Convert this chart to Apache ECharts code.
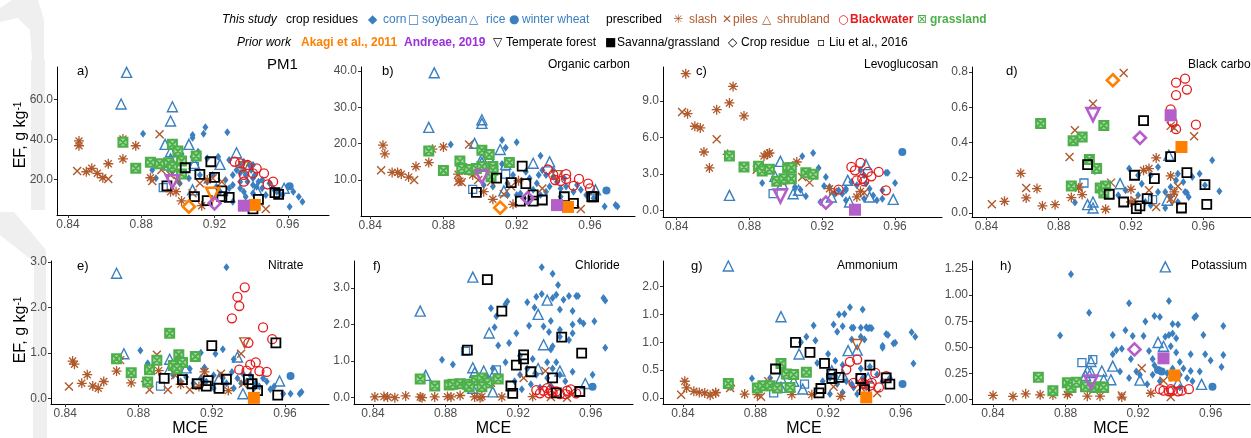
<!DOCTYPE html>
<html>
<head>
<meta charset="utf-8">
<script src="https://cdn.jsdelivr.net/npm/echarts@6/dist/echarts.min.js"></script>
<style>
  html, body { margin: 0; padding: 0; background: #fff; }
  #chart { width: 1251px; height: 438px; }
</style>
</head>
<body>
<div id="chart"></div>
<script>
// ---- data: [MCE, EF] ----
var xTicks = [0.84, 0.88, 0.92, 0.96];
var xTickLabels = ['0.84', '0.88', '0.92', '0.96'];

// a) PM1
var pm1Ticks = [20, 40, 60];
var pm1Labels = ['20.0', '40.0', '60.0'];
var pm1Corn = [[0.881,42.8],[0.908,42.2],[0.908,40.8],[0.915,46],[0.914,42.8],[0.927,43.5],[0.911,33.8],[0.908,31.3],[0.902,32.7],[0.916,30.5],[0.922,31.3],[0.928,29.7],[0.934,27.2],[0.936,24.7],[0.939,27.2],[0.937,22.2],[0.941,20.5],[0.934,18.8],[0.930,17.2],[0.926,19.7],[0.921,16.3],[0.916,18.8],[0.912,22.2],[0.906,20.5],[0.901,18.0],[0.886,24.7],[0.888,20.5],[0.897,23.8],[0.936,13.8],[0.941,13.0],[0.946,15.5],[0.950,18.0],[0.954,13.8],[0.957,12.2],[0.961,6.3],[0.966,11.3],[0.968,8.8],[0.963,13.8],[0.930,8.8],[0.937,11.3],[0.926,12.2],[0.943,16.3],[0.934,23.2],[0.938,18.8],[0.940,24.7],[0.942,22.2],[0.944,18.8],[0.930,22.2],[0.932,24.7],[0.928,15.5],[0.919,22.2],[0.936,28.8],[0.941,27.2],[0.941,17.2],[0.946,19.7],[0.934,15.5],[0.948,12.2],[0.952,15.5],[0.923,13.8]];
var pm1Soy = [[0.892,15.8],[0.909,26.5]];
var pm1Rice = [[0.872,73.5],[0.869,57.7],[0.897,56.3],[0.896,49.2],[0.893,37.5],[0.906,37.5],[0.932,33.3],[0.896,30.2],[0.923,27.5],[0.909,28.0],[0.895,27.2],[0.908,14.7],[0.958,15.5],[0.896,33.8],[0.943,14.7]];
var pm1Wheat = [[0.961,16.5]];
var pm1Slash = [[0.846,39.2],[0.846,36.8],[0.870,40.2],[0.870,30.2],[0.877,36.8],[0.862,27.8],[0.853,25.5],[0.850,23.8],[0.856,23.0],[0.859,20.8],[0.885,20.8],[0.902,9.2],[0.899,13.8],[0.896,13.8],[0.913,6.8],[0.916,19.7]];
var pm1Piles = [[0.845,24.2],[0.862,20.2],[0.890,42.5],[0.891,24.7],[0.886,19.2],[0.896,22.2],[0.900,19.2],[0.912,18.0],[0.908,13.0],[0.919,20.5],[0.948,5.2],[0.924,18.8]];
var pm1Shrub = [[0.936,26.3]];
var pm1Bw = [[0.931,28.8],[0.934,28.0],[0.938,27.2],[0.943,25.5],[0.941,23.0],[0.936,18.8],[0.947,23.0],[0.952,18.8],[0.949,17.5],[0.936,22.2]];
var pm1Grass = [[0.870,38.5],[0.897,37.5],[0.900,34.2],[0.885,28.5],[0.890,27.8],[0.895,28.3],[0.910,31.7],[0.902,29.2],[0.877,25.5],[0.902,22.7],[0.897,26.3]];
var pm1Liu = [[0.904,25.8],[0.918,28.8],[0.912,22.5],[0.920,21.0],[0.894,16.7],[0.909,11.3],[0.916,9.3],[0.924,14.2],[0.924,11.3],[0.928,11.0],[0.944,10.0],[0.941,5.2],[0.953,13.3],[0.955,12.5]];
var pm1Akagi = [[0.906,6.3,'crop'],[0.919,12.5,'forest'],[0.942,7.2,'savanna']];
var pm1Andreae = [[0.897,18.8,'forest'],[0.920,8.0,'crop'],[0.936,6.8,'savanna']];

// b) Organic carbon
var ocTicks = [10, 20, 30, 40];
var ocLabels = ['10.0', '20.0', '30.0', '40.0'];
var ocCorn = [[0.884,19.8],[0.912,21.0],[0.920,20.4],[0.914,18.9],[0.933,16.7],[0.912,14.4],[0.918,11.4],[0.925,12.3],[0.927,10.5],[0.932,11.4],[0.936,11.4],[0.940,12.7],[0.942,9.5],[0.938,8.2],[0.944,7.7],[0.947,8.2],[0.951,6.8],[0.955,7.3],[0.958,5.9],[0.962,5.0],[0.968,2.7],[0.974,3.1],[0.975,2.7],[0.922,6.3],[0.924,5.0],[0.929,7.3],[0.933,5.9],[0.936,6.8],[0.931,9.1],[0.927,4.1],[0.915,9.1],[0.907,8.2],[0.902,8.6],[0.915,5.9],[0.946,10.5],[0.940,10.9],[0.934,12.7],[0.944,5.4],[0.920,5.9],[0.953,8.6]];
var ocSoy = [[0.896,7.4],[0.914,11.6]];
var ocRice = [[0.875,39.5],[0.872,24.5],[0.901,26.6],[0.901,25.6],[0.897,20.1],[0.911,18.4],[0.901,14.8],[0.907,14.1],[0.914,14.3],[0.929,14.6],[0.938,15.0],[0.963,7.3],[0.913,7.0],[0.901,15.9]];
var ocWheat = [[0.969,7.1]];
var ocSlash = [[0.847,19.6],[0.848,17.2],[0.874,18.5],[0.880,19.1],[0.872,14.8],[0.865,13.7],[0.852,12.1],[0.855,12.1],[0.857,11.6],[0.861,10.8],[0.888,11.6],[0.889,9.7],[0.902,6.8],[0.907,4.7],[0.918,3.3],[0.921,9.8],[0.896,11.4]];
var ocPiles = [[0.846,12.7],[0.864,10.0],[0.894,19.8],[0.888,9.5],[0.890,9.4],[0.906,9.5],[0.913,6.1],[0.917,8.2],[0.934,7.7],[0.955,2.0],[0.899,10.0]];
var ocShrub = [[0.942,11.2]];
var ocBw = [[0.937,12.9],[0.940,11.4],[0.944,9.7],[0.947,11.6],[0.951,8.4],[0.954,10.3],[0.959,9.0],[0.960,7.7],[0.941,10.0],[0.947,10.3]];
var ocGrass = [[0.872,18.0],[0.880,12.6],[0.889,15.2],[0.890,13.2],[0.894,12.9],[0.898,13.2],[0.901,18.2],[0.905,17.0],[0.907,13.7],[0.907,12.7],[0.916,14.8],[0.906,10.9],[0.901,13.7]];
var ocLiu = [[0.923,13.8],[0.909,10.5],[0.917,9.3],[0.925,9.0],[0.898,6.6],[0.922,4.2],[0.929,5.9],[0.929,4.2],[0.934,4.5],[0.946,5.4],[0.951,3.6],[0.961,5.4],[0.962,5.4]];
var ocAkagi = [[0.911,2.4,'crop'],[0.948,2.6,'savanna']];
var ocAndreae = [[0.901,10.9,'forest'],[0.926,5.0,'crop'],[0.942,3.1,'savanna']];

// c) Levoglucosan
var levoTicks = [0, 3, 6, 9];
var levoLabels = ['0.0', '3.0', '6.0', '9.0'];
var levoCorn = [[0.887,2.25],[0.909,4.45],[0.915,4.72],[0.918,3.49],[0.905,1.92],[0.908,1.70],[0.911,1.15],[0.922,2.74],[0.921,2.0],[0.924,1.92],[0.919,0.69],[0.927,1.37],[0.931,1.37],[0.933,1.65],[0.936,2.33],[0.939,2.06],[0.941,3.29],[0.943,2.88],[0.944,2.2],[0.946,1.78],[0.948,1.23],[0.950,0.82],[0.953,1.65],[0.955,3.1],[0.956,3.1],[0.960,2.25],[0.953,0.96],[0.943,0.96],[0.933,1.78],[0.929,1.65],[0.933,0.82]];
var levoSoy = [[0.893,1.37]];
var levoRice = [[0.869,1.23],[0.897,4.03],[0.894,2.8],[0.898,2.2],[0.904,1.37],[0.907,1.65],[0.934,2.47],[0.944,3.76],[0.946,1.1],[0.959,0.9],[0.935,0.69],[0.925,1.1]];
var levoWheat = [[0.964,4.8]];
var levoSlash = [[0.845,11.25],[0.871,10.2],[0.869,8.84],[0.862,8.29],[0.877,7.77],[0.846,7.96],[0.850,6.92],[0.853,6.78],[0.855,4.8],[0.858,3.49],[0.868,4.61],[0.888,4.47],[0.891,4.72],[0.890,4.64],[0.906,3.98],[0.897,2.39],[0.924,1.78],[0.941,1.56],[0.939,1.1]];
var levoPiles = [[0.843,8.1],[0.862,5.85],[0.884,3.35],[0.898,2.39],[0.909,2.74],[0.913,2.28],[0.926,1.5],[0.943,1.45]];
var levoShrub = [];
var levoBw = [[0.936,3.57],[0.941,3.9],[0.938,3.29],[0.945,3.16],[0.947,2.8],[0.942,2.6],[0.939,2.47],[0.951,3.16],[0.955,1.65],[0.929,1.7],[0.943,2.39]];
var levoGrass = [[0.869,4.47],[0.877,3.57],[0.885,3.62],[0.887,3.24],[0.891,3.38],[0.895,2.39],[0.899,2.6],[0.901,3.51],[0.903,3.51],[0.903,2.6],[0.911,3.1],[0.915,2.96]];
var levoLiu = [];
var levoAkagi = [];
var levoAndreae = [[0.897,1.18,'forest'],[0.922,0.63,'crop'],[0.938,0.05,'savanna']];

// d) Black carbon
var bcTicks = [0, 0.2, 0.4, 0.6, 0.8];
var bcLabels = ['0.0', '0.2', '0.4', '0.6', '0.8'];
var bcCorn = [[0.889,0.059],[0.900,0.236],[0.919,0.252],[0.926,0.166],[0.935,0.261],[0.939,0.119],[0.942,0.091],[0.946,0.223],[0.949,0.176],[0.951,0.115],[0.954,0.204],[0.958,0.223],[0.961,0.157],[0.965,0.299],[0.969,0.123],[0.913,0.1],[0.917,0.129],[0.924,0.1],[0.928,0.062],[0.931,0.043],[0.935,0.119],[0.939,0.028],[0.946,0.062],[0.950,0.119],[0.952,0.091],[0.942,0.147],[0.945,0.185],[0.931,0.214],[0.924,0.214]];
var bcSoy = [[0.894,0.17],[0.932,0.076]];
var bcRice = [[0.896,0.047],[0.899,0.062],[0.899,0.028],[0.914,0.166],[0.941,0.327],[0.940,0.072]];
var bcWheat = [];
var bcSlash = [[0.850,0.066],[0.859,0.225],[0.862,0.085],[0.868,0.138],[0.871,0.04],[0.878,0.047],[0.887,0.087],[0.891,0.142],[0.893,0.104],[0.906,0.021],[0.920,0.134],[0.927,0.242],[0.930,0.252],[0.934,0.312],[0.942,0.21],[0.920,0.062],[0.944,0.119]];
var bcPiles = [[0.843,0.049],[0.916,0.794],[0.899,0.62],[0.889,0.469],[0.886,0.318],[0.862,0.142],[0.891,0.148],[0.909,0.172],[0.922,0.072],[0.930,0.129],[0.934,0.034],[0.942,0.494],[0.944,0.482],[0.955,0.435],[0.946,0.151],[0.942,0.081]];
var bcShrub = [[0.943,0.077]];
var bcBw = [[0.945,0.739],[0.950,0.762],[0.951,0.70],[0.945,0.668],[0.942,0.588],[0.943,0.516],[0.945,0.475],[0.956,0.501]];
var bcGrass = [[0.870,0.507],[0.888,0.41],[0.893,0.431],[0.897,0.303],[0.901,0.252],[0.905,0.496],[0.887,0.153],[0.903,0.142],[0.906,0.153],[0.905,0.113]];
var bcLiu = [[0.927,0.524],[0.896,0.274],[0.908,0.106],[0.916,0.062],[0.922,0.214],[0.923,0.025],[0.925,0.04],[0.929,0.081],[0.933,0.195],[0.942,0.32],[0.951,0.229],[0.948,0.028],[0.961,0.161],[0.962,0.049]];
var bcAkagi = [[0.910,0.753,'crop'],[0.948,0.374,'savanna']];
var bcAndreae = [[0.899,0.558,'forest'],[0.925,0.426,'crop'],[0.942,0.554,'savanna']];

// e) Nitrate
var nitTicks = [0, 1, 2, 3];
var nitLabels = ['0.0', '1.0', '2.0', '3.0'];
var nitCorn = [[0.928,2.88],[0.881,1.05],[0.885,0.77],[0.914,1.0],[0.922,0.98],[0.926,1.08],[0.932,0.86],[0.916,0.68],[0.908,0.65],[0.899,0.51],[0.906,0.47],[0.910,0.33],[0.917,0.37],[0.921,0.22],[0.925,0.51],[0.928,0.33],[0.931,0.58],[0.934,0.44],[0.936,0.33],[0.937,0.54],[0.932,0.22],[0.939,0.37],[0.941,0.51],[0.944,0.33],[0.946,0.26],[0.948,0.44],[0.950,0.37],[0.954,0.26],[0.959,0.1],[0.963,0.1],[0.968,0.1],[0.969,0.14],[0.952,0.2],[0.921,0.51],[0.926,0.44],[0.943,0.22],[0.914,0.44],[0.903,0.37]];
var nitSoy = [[0.892,0.27]];
var nitRice = [[0.868,2.75],[0.872,0.98],[0.897,0.86],[0.897,0.65],[0.906,0.67],[0.924,0.44],[0.934,0.91],[0.937,0.1],[0.957,0.38]];
var nitWheat = [[0.963,0.49]];
var nitSlash = [[0.844,0.82],[0.845,0.75],[0.852,0.52],[0.849,0.33],[0.855,0.27],[0.858,0.22],[0.861,0.37],[0.868,0.6],[0.869,0.86],[0.876,0.34],[0.884,0.37],[0.891,0.61],[0.903,0.31],[0.913,0.26],[0.916,0.58],[0.929,0.17]];
var nitPiles = [[0.842,0.26],[0.870,0.84],[0.890,0.96],[0.886,0.19],[0.896,0.19],[0.900,0.51],[0.908,0.19],[0.916,0.58],[0.925,0.54],[0.936,0.98],[0.937,0.32]];
var nitShrub = [[0.938,1.22]];
var nitBw = [[0.938,2.44],[0.934,2.23],[0.935,2.03],[0.931,1.76],[0.948,1.56],[0.953,1.3],[0.940,1.22],[0.941,0.74],[0.944,0.79],[0.946,0.6],[0.950,0.58],[0.935,0.63],[0.939,0.61]];
var nitGrass = [[0.868,0.87],[0.876,0.56],[0.886,0.63],[0.890,0.84],[0.897,1.43],[0.902,0.96],[0.911,0.92],[0.899,0.72],[0.904,0.79],[0.885,0.36],[0.901,0.65]];
var nitLiu = [[0.920,1.16],[0.955,1.22],[0.894,0.44],[0.904,0.41],[0.912,0.32],[0.917,0.27],[0.918,0.39],[0.924,0.22],[0.928,0.42],[0.940,0.41],[0.942,0.32],[0.945,0.17],[0.956,0.07]];
var nitAkagi = [[0.943,0.01,'savanna']];
var nitAndreae = [];

// f) Chloride
var chlTicks = [0, 1, 2, 3];
var chlLabels = ['0.0', '1.0', '2.0', '3.0'];
var chlCorn = [[0.933,3.57],[0.878,1.04],[0.884,0.91],[0.905,2.45],[0.908,2.23],[0.907,1.93],[0.913,2.56],[0.914,2.63],[0.909,1.43],[0.915,1.5],[0.919,1.76],[0.925,2.61],[0.926,1.97],[0.929,2.47],[0.930,2.76],[0.933,2.84],[0.934,1.95],[0.937,1.8],[0.938,2.1],[0.939,3.39],[0.939,2.73],[0.941,2.82],[0.942,3.08],[0.943,2.41],[0.943,1.86],[0.945,2.68],[0.948,2.78],[0.950,2.37],[0.952,2.78],[0.953,2.78],[0.954,2.1],[0.956,2.03],[0.962,2.09],[0.967,2.73],[0.968,2.66],[0.968,1.37],[0.961,0.63],[0.950,2.0],[0.943,1.67],[0.938,1.32],[0.936,0.97],[0.928,1.06],[0.925,0.8],[0.921,0.63],[0.918,0.45],[0.922,0.23],[0.927,0.37],[0.932,0.28],[0.936,0.54],[0.939,0.8],[0.943,0.63],[0.946,0.45],[0.950,0.71],[0.941,0.97],[0.930,0.63],[0.913,0.97],[0.906,0.8],[0.903,0.54],[0.938,0.32],[0.950,1.76],[0.948,1.58],[0.939,1.41],[0.921,1.15]];
var chlSoy = [[0.891,1.27],[0.891,0.38],[0.908,0.76]];
var chlRice = [[0.866,2.37],[0.869,0.61],[0.895,3.3],[0.904,1.77],[0.907,0.7],[0.896,0.69],[0.901,0.73],[0.906,0.16],[0.895,0.26],[0.931,2.28],[0.936,2.67],[0.934,1.45],[0.931,0.8],[0.943,0.73],[0.957,0.39],[0.895,0.82]];
var chlWheat = [[0.961,0.3]];
var chlSlash = [[0.841,0.02],[0.846,0.03],[0.848,0.02],[0.852,0.0],[0.858,0.05],[0.866,0.02],[0.867,0.0],[0.874,0.02],[0.881,0.03],[0.883,0.02],[0.888,0.06],[0.896,0.02],[0.899,0.0],[0.900,0.03],[0.911,0.02],[0.928,0.03]];
var chlPiles = [[0.923,0.54],[0.935,0.73],[0.947,0.0],[0.905,0.41],[0.950,0.1],[0.938,0.02]];
var chlShrub = [];
var chlBw = [[0.930,0.21],[0.932,0.12],[0.934,0.19],[0.937,0.12],[0.938,0.21],[0.941,0.17],[0.943,0.1],[0.947,0.19],[0.949,0.23],[0.952,0.12],[0.936,0.26],[0.939,0.14],[0.946,0.1]];
var chlGrass = [[0.866,0.51],[0.874,0.32],[0.882,0.35],[0.884,0.37],[0.888,0.38],[0.892,0.37],[0.897,0.47],[0.900,0.54],[0.903,0.4],[0.900,0.3],[0.909,0.51],[0.893,0.3]];
var chlLiu = [[0.903,3.23],[0.911,2.37],[0.892,1.3],[0.944,1.66],[0.955,1.22],[0.923,1.17],[0.923,1.06],[0.919,0.89],[0.927,0.71],[0.939,0.54],[0.916,0.32],[0.917,0.12],[0.941,0.13],[0.954,0.17]];
var chlAkagi = [];
var chlAndreae = [];

// g) Ammonium (tick labels as printed in the figure)
var ammTicks = [0, 0.5, 1, 1.5, 2];
var ammLabels = ['0.0', '0.5', '1.0', '1.0', '2.0'];
var ammCorn = [[0.878,0.35],[0.888,0.36],[0.905,1.0],[0.908,1.1],[0.912,1.3],[0.913,1.03],[0.908,0.46],[0.914,0.63],[0.920,0.79],[0.923,1.32],[0.925,1.19],[0.926,1.5],[0.928,1.29],[0.929,1.51],[0.932,1.63],[0.933,1.26],[0.934,1.26],[0.938,1.26],[0.939,1.59],[0.941,1.27],[0.942,1.25],[0.943,1.26],[0.944,1.25],[0.933,1.05],[0.938,1.1],[0.940,1.05],[0.950,0.94],[0.950,0.9],[0.952,1.15],[0.953,1.13],[0.956,0.98],[0.957,0.99],[0.966,1.18],[0.968,1.1],[0.967,0.62],[0.924,0.67],[0.928,0.59],[0.921,0.36],[0.925,0.25],[0.930,0.3],[0.934,0.19],[0.938,0.53],[0.939,0.36],[0.943,0.56],[0.947,0.42],[0.950,0.3],[0.954,0.36],[0.917,0.3],[0.921,0.07],[0.928,0.1],[0.933,0.25],[0.936,0.07],[0.941,0.19]];
var ammSoy = [[0.890,0.09],[0.907,0.25]];
var ammRice = [[0.865,2.37],[0.894,1.46],[0.904,0.79],[0.894,0.36],[0.894,0.19],[0.901,0.3],[0.906,0.16],[0.922,0.49],[0.931,0.85],[0.936,0.86],[0.942,0.36],[0.928,0.42]];
var ammWheat = [[0.961,0.25]];
var ammSlash = [[0.841,0.3],[0.842,0.18],[0.846,0.12],[0.849,0.1],[0.852,0.09],[0.855,0.05],[0.858,0.09],[0.858,0.1],[0.866,0.22],[0.874,0.07],[0.881,0.06],[0.888,0.22],[0.900,0.06],[0.911,0.06],[0.927,0.03]];
var ammPiles = [[0.839,0.06],[0.866,0.18],[0.883,0.02],[0.887,0.3],[0.923,0.2],[0.938,0.19],[0.947,0.09]];
var ammShrub = [[0.936,0.96]];
var ammBw = [[0.930,0.51],[0.932,0.65],[0.936,0.69],[0.938,0.36],[0.940,0.25],[0.943,0.22],[0.944,0.27],[0.946,0.45],[0.948,0.19],[0.952,0.39],[0.934,0.27],[0.939,0.27]];
var ammGrass = [[0.865,0.26],[0.881,0.18],[0.884,0.22],[0.888,0.22],[0.894,0.62],[0.897,0.43],[0.901,0.42],[0.908,0.46],[0.899,0.19],[0.892,0.18]];
var ammLiu = [[0.902,1.0],[0.910,0.82],[0.891,0.52],[0.918,0.62],[0.943,0.59],[0.922,0.43],[0.922,0.35],[0.926,0.37],[0.938,0.35],[0.952,0.36],[0.954,0.25],[0.916,0.17],[0.915,0.09],[0.940,0.15]];
var ammAkagi = [[0.941,0.01,'savanna']];
var ammAndreae = [];

// h) Potassium
var potTicks = [0, 0.25, 0.5, 0.75, 1, 1.25];
var potLabels = ['0.00', '0.25', '0.50', '0.75', '1.00', '1.25'];
var potCorn = [[0.883,1.2],[0.877,0.614],[0.893,0.83],[0.906,0.435],[0.906,0.617],[0.908,0.471],[0.911,0.487],[0.913,0.663],[0.915,0.922],[0.917,0.608],[0.916,0.389],[0.919,0.268],[0.924,0.748],[0.923,0.608],[0.926,0.465],[0.929,0.8],[0.932,0.79],[0.937,0.943],[0.928,0.389],[0.929,0.328],[0.935,0.602],[0.937,0.617],[0.938,0.51],[0.939,0.632],[0.941,0.45],[0.943,0.359],[0.939,0.298],[0.936,0.252],[0.943,0.237],[0.947,0.207],[0.949,0.435],[0.949,0.274],[0.951,0.785],[0.952,0.8],[0.956,0.617],[0.957,0.435],[0.960,0.374],[0.966,0.313],[0.967,0.703],[0.967,0.426],[0.928,0.237],[0.921,0.237],[0.925,0.146],[0.932,0.176],[0.938,0.207],[0.943,0.116],[0.945,0.298],[0.950,0.176],[0.954,0.268],[0.939,0.724],[0.942,0.718],[0.941,0.587],[0.915,0.207],[0.910,0.268]];
var potSoy = [[0.889,0.353],[0.895,0.383]];
var potRice = [[0.935,1.27],[0.892,0.274],[0.894,0.259],[0.891,0.23],[0.900,0.274],[0.901,0.19],[0.906,0.32],[0.905,0.19],[0.921,0.186],[0.931,0.547],[0.934,0.51],[0.955,0.146],[0.942,0.161],[0.894,0.365]];
var potWheat = [[0.961,0.122],[0.931,0.283],[0.933,0.27]];
var potSlash = [[0.840,0.04],[0.851,0.03],[0.858,0.055],[0.866,0.046],[0.873,0.043],[0.881,0.049],[0.892,0.033],[0.899,0.033],[0.911,0.024],[0.927,0.061],[0.882,0.07]];
var potPiles = [[0.922,0.3],[0.934,0.18],[0.938,0.024],[0.911,0.04]];
var potShrub = [];
var potBw = [[0.932,0.1],[0.934,0.085],[0.937,0.079],[0.939,0.085],[0.942,0.079],[0.944,0.085],[0.948,0.1],[0.938,0.1]];
var potGrass = [[0.865,0.213],[0.873,0.085],[0.881,0.161],[0.883,0.116],[0.886,0.167],[0.891,0.122],[0.896,0.116],[0.899,0.122],[0.901,0.116]];
var potLiu = [];
var potAkagi = [[0.940,0.231,'savanna']];
var potAndreae = [[0.894,0.167,'forest'],[0.918,0.48,'crop'],[0.934,0.395,'savanna']];

// ---- styling ----
var FONT = '"Liberation Sans", Arial, Helvetica, sans-serif';
var BLUE = '#3a7fc0';
var BROWN = '#b0592b';
var RED = '#e41a1c';
var GREEN = '#4daf4a';
var ORANGE = '#ff7f00';
var PURPLE = '#b45ec9';
var NONE = 'rgba(0,0,0,0)';

var STAR = 'path://M5,0L5,10M0,5L10,5M1.5,1.5L8.5,8.5M8.5,1.5L1.5,8.5';
var XMARK = 'path://M0,0L10,10M10,0L0,10';
var BOXX = 'path://M0,0L10,0L10,10L0,10ZM0,0L10,10M10,0L0,10';

var styles = {
  corn:  {symbol: 'diamond', size: [6, 8], fill: BLUE, stroke: BLUE, bw: 0},
  soy:   {symbol: 'rect', size: 8, fill: NONE, stroke: BLUE, bw: 1.3},
  rice:  {symbol: 'triangle', size: 10, fill: NONE, stroke: BLUE, bw: 1.4},
  wheat: {symbol: 'circle', size: 8, fill: BLUE, stroke: BLUE, bw: 0},
  slash: {symbol: STAR, size: 10, fill: NONE, stroke: BROWN, bw: 1.3},
  piles: {symbol: XMARK, size: 8, fill: NONE, stroke: BROWN, bw: 1.4},
  shrub: {symbol: 'triangle', rotate: 180, size: 10, fill: NONE, stroke: BROWN, bw: 1.4},
  bw:    {symbol: 'circle', size: 9, fill: NONE, stroke: RED, bw: 1.3},
  grass: {symbol: BOXX, size: 9, fill: '#a5d9a2', stroke: GREEN, bw: 2},
  liu:   {symbol: 'rect', size: 9, fill: NONE, stroke: '#000', bw: 1.8}
};
var priorStyles = {
  forest:  {symbol: 'triangle', rotate: 180, size: 13, hollow: true, bw: 2.6},
  crop:    {symbol: 'diamond', size: 12, hollow: true, bw: 2.6},
  savanna: {symbol: 'rect', size: 12, hollow: false, bw: 0}
};

var panels = [
  {tag: 'a)', title: 'PM1', titleSize: 15, titleX: 267, grid: {left: 57, top: 67, width: 272, height: 148},
   x: [0.834, 0.9825], y: [2.15, 76.2], yTicks: pm1Ticks, yLabels: pm1Labels, tagX: 77,
   d: {corn: pm1Corn, soy: pm1Soy, rice: pm1Rice, wheat: pm1Wheat, slash: pm1Slash, piles: pm1Piles, shrub: pm1Shrub, bw: pm1Bw, grass: pm1Grass, liu: pm1Liu}, akagi: pm1Akagi, andreae: pm1Andreae},
  {tag: 'b)', title: 'Organic carbon', titleSize: 12, titleX: 548, grid: {left: 361, top: 67, width: 274, height: 149},
   x: [0.835, 0.9846], y: [0.1, 41.1], yTicks: ocTicks, yLabels: ocLabels, tagX: 382,
   d: {corn: ocCorn, soy: ocSoy, rice: ocRice, wheat: ocWheat, slash: ocSlash, piles: ocPiles, shrub: ocShrub, bw: ocBw, grass: ocGrass, liu: ocLiu}, akagi: ocAkagi, andreae: ocAndreae},
  {tag: 'c)', title: 'Levoglucosan', titleSize: 12, titleX: 864, grid: {left: 663, top: 67, width: 279, height: 150},
   x: [0.8325, 0.9858], y: [-0.55, 11.8], yTicks: levoTicks, yLabels: levoLabels, tagX: 696,
   d: {corn: levoCorn, soy: levoSoy, rice: levoRice, wheat: levoWheat, slash: levoSlash, piles: levoPiles, shrub: levoShrub, bw: levoBw, grass: levoGrass, liu: levoLiu}, akagi: levoAkagi, andreae: levoAndreae},
  {tag: 'd)', title: 'Black carbon', titleSize: 12, titleX: 1188, grid: {left: 972, top: 67, width: 282, height: 150},
   x: [0.832, 0.9865], y: [-0.023, 0.828], yTicks: bcTicks, yLabels: bcLabels, tagX: 1006,
   d: {corn: bcCorn, soy: bcSoy, rice: bcRice, wheat: bcWheat, slash: bcSlash, piles: bcPiles, shrub: bcShrub, bw: bcBw, grass: bcGrass, liu: bcLiu}, akagi: bcAkagi, andreae: bcAndreae},
  {tag: 'e)', title: 'Nitrate', titleSize: 12, titleX: 268, grid: {left: 51, top: 261, width: 278, height: 149},
   x: [0.8322, 0.984], y: [-0.127, 3.02], yTicks: nitTicks, yLabels: nitLabels, tagX: 77, bottom: true,
   d: {corn: nitCorn, soy: nitSoy, rice: nitRice, wheat: nitWheat, slash: nitSlash, piles: nitPiles, shrub: nitShrub, bw: nitBw, grass: nitGrass, liu: nitLiu}, akagi: nitAkagi, andreae: nitAndreae},
  {tag: 'f)', title: 'Chloride', titleSize: 12, titleX: 575, grid: {left: 354, top: 261, width: 279, height: 150},
   x: [0.8295, 0.9833], y: [-0.175, 3.74], yTicks: chlTicks, yLabels: chlLabels, tagX: 373, bottom: true,
   d: {corn: chlCorn, soy: chlSoy, rice: chlRice, wheat: chlWheat, slash: chlSlash, piles: chlPiles, shrub: chlShrub, bw: chlBw, grass: chlGrass, liu: chlLiu}, akagi: chlAkagi, andreae: chlAndreae},
  {tag: 'g)', title: 'Ammonium', titleSize: 12, titleX: 837, grid: {left: 663, top: 261, width: 282, height: 150},
   x: [0.829, 0.9844], y: [-0.11, 2.46], yTicks: ammTicks, yLabels: ammLabels, tagX: 691, bottom: true,
   d: {corn: ammCorn, soy: ammSoy, rice: ammRice, wheat: ammWheat, slash: ammSlash, piles: ammPiles, shrub: ammShrub, bw: ammBw, grass: ammGrass, liu: ammLiu}, akagi: ammAkagi, andreae: ammAndreae},
  {tag: 'h)', title: 'Potassium', titleSize: 12, titleX: 1191, grid: {left: 972, top: 261, width: 278, height: 150},
   x: [0.8284, 0.9817], y: [-0.043, 1.326], yTicks: potTicks, yLabels: potLabels, tagX: 1000, bottom: true,
   d: {corn: potCorn, soy: potSoy, rice: potRice, wheat: potWheat, slash: potSlash, piles: potPiles, shrub: potShrub, bw: potBw, grass: potGrass, liu: potLiu}, akagi: potAkagi, andreae: potAndreae}
];

var order = ['corn', 'soy', 'rice', 'wheat', 'slash', 'piles', 'shrub', 'bw', 'grass', 'liu'];

var grids = [], xAxes = [], yAxes = [], series = [], graphics = [];

panels.forEach(function (p, i) {
  grids.push(p.grid);
  xAxes.push({
    gridIndex: i, type: 'value', min: p.x[0], max: p.x[1],
    axisLine: {show: true, onZero: false, lineStyle: {color: '#000', width: 1}},
    axisTick: {show: true, customValues: xTicks, length: 3, lineStyle: {color: '#333'}},
    axisLabel: {customValues: xTicks, margin: 4, color: '#4d4d4d', fontSize: 12, fontFamily: FONT,
      formatter: function (v) { return xTickLabels[xTicks.indexOf(v)]; }},
    splitLine: {show: false},
    name: p.bottom ? 'MCE' : '', nameLocation: 'middle', nameGap: 13,
    nameTextStyle: {color: '#000', fontSize: 16, fontFamily: FONT, verticalAlign: 'top'}
  });
  yAxes.push({
    gridIndex: i, type: 'value', min: p.y[0], max: p.y[1],
    axisLine: {show: true, onZero: false, lineStyle: {color: '#000', width: 1}},
    axisTick: {show: true, customValues: p.yTicks, length: 3, lineStyle: {color: '#333'}},
    axisLabel: {customValues: p.yTicks, margin: 4, color: '#4d4d4d', fontSize: 12, fontFamily: FONT,
      formatter: (function (ticks, labels) {
        return function (v) { return labels[ticks.indexOf(v)]; };
      })(p.yTicks, p.yLabels)},
    splitLine: {show: false}
  });

  order.forEach(function (k) {
    var s = styles[k];
    series.push({
      type: 'scatter', xAxisIndex: i, yAxisIndex: i, data: p.d[k],
      symbol: s.symbol, symbolSize: s.size, symbolRotate: s.rotate || 0,
      itemStyle: {color: s.fill, borderColor: s.stroke, borderWidth: s.bw, opacity: 1},
      silent: true
    });
  });

  [[p.akagi, ORANGE], [p.andreae, PURPLE]].forEach(function (pair) {
    ['savanna', 'crop', 'forest'].forEach(function (t) {
      var pts = pair[0].filter(function (d) { return d[2] === t; })
                       .map(function (d) { return [d[0], d[1]]; });
      if (!pts.length) return;
      var ps = priorStyles[t];
      series.push({
        type: 'scatter', xAxisIndex: i, yAxisIndex: i, data: pts,
        symbol: ps.symbol, symbolSize: ps.size, symbolRotate: ps.rotate || 0,
        itemStyle: {color: ps.hollow ? NONE : pair[1], borderColor: pair[1], borderWidth: ps.bw, opacity: 1},
        silent: true
      });
    });
  });

  var row = p.grid.top < 200 ? 64.5 : 266;
  graphics.push({type: 'text', x: p.tagX, y: p.grid.top < 200 ? 71 : 266,
    style: {text: p.tag, fill: '#000', font: '13px ' + FONT, verticalAlign: 'middle'}});
  graphics.push({type: 'text', x: p.titleX, y: row,
    style: {text: p.title, fill: '#000', font: p.titleSize + 'px ' + FONT, verticalAlign: 'middle'}});
});

// y-axis title, once per row
[135, 330].forEach(function (cy) {
  graphics.push({type: 'text', x: 21, y: cy, rotation: Math.PI / 2,
    style: {text: '{a|EF, g kg}{s|-1}', align: 'center', verticalAlign: 'middle',
      rich: {a: {fontSize: 16, fontFamily: FONT, fill: '#000'},
             s: {fontSize: 10, fontFamily: FONT, fill: '#000', verticalAlign: 'top'}}}});
});

// legend rows
var legendRow1 = [
  {x: 222, t: 'This study', c: '#000', st: 'italic'},
  {x: 286, t: 'crop residues', c: '#000'},
  {x: 368, t: '◆', c: BLUE, g: 1},
  {x: 383, t: 'corn', c: BLUE},
  {x: 408, t: '□', c: BLUE, g: 1},
  {x: 422, t: 'soybean', c: BLUE},
  {x: 469, t: '△', c: BLUE, g: 1},
  {x: 486, t: 'rice', c: BLUE},
  {x: 509, t: '●', c: BLUE, g: 1},
  {x: 522, t: 'winter wheat', c: BLUE},
  {x: 606, t: 'prescribed', c: '#000'},
  {x: 673, t: '✳', c: BROWN, g: 1},
  {x: 689, t: 'slash', c: BROWN},
  {x: 722, t: '✕', c: BROWN, g: 1},
  {x: 733, t: 'piles', c: BROWN},
  {x: 762, t: '△', c: BROWN, g: 1},
  {x: 777, t: 'shrubland', c: BROWN},
  {x: 838, t: '○', c: RED, g: 1},
  {x: 850, t: 'Blackwater', c: RED, w: 'bold'},
  {x: 917, t: '⊠', c: GREEN, g: 1},
  {x: 930, t: 'grassland', c: GREEN, w: 'bold'}
];
var legendRow2 = [
  {x: 237, t: 'Prior work', c: '#000', st: 'italic'},
  {x: 301, t: 'Akagi et al., 2011', c: ORANGE, w: 'bold'},
  {x: 404, t: 'Andreae, 2019', c: '#9b30d9', w: 'bold'},
  {x: 493, t: '▽', c: '#000', g: 1},
  {x: 506, t: 'Temperate forest', c: '#000'},
  {x: 605, t: '■', c: '#000', g: 1},
  {x: 617, t: 'Savanna/grassland', c: '#000'},
  {x: 728, t: '◇', c: '#000', g: 1},
  {x: 741, t: 'Crop residue', c: '#000'},
  {x: 817, t: '▫', c: '#000', g: 1},
  {x: 829, t: 'Liu et al., 2016', c: '#000'}
];
[[legendRow1, 20], [legendRow2, 43]].forEach(function (r) {
  r[0].forEach(function (it) {
    var f = (it.st || 'normal') + ' ' + (it.w || 'normal') + ' 12px ' + (it.g ? '"DejaVu Sans", ' : '') + FONT;
    graphics.push({type: 'text', x: it.x, y: r[1],
      style: {text: it.t, fill: it.c, font: f, verticalAlign: 'middle'}});
  });
});

// faint watermark on the left edge
var WM = '#efefef';
graphics.unshift(
  {type: 'polygon', z: -10, shape: {points: [[12, 0], [38, 0], [44, 20], [44, 60], [32, 60], [30, 30], [18, 18], [0, 22], [0, 8]]}, style: {fill: WM}},
  {type: 'rect', z: -10, shape: {x: 31, y: 60, width: 14, height: 150}, style: {fill: WM}},
  {type: 'polygon', z: -10, shape: {points: [[0, 212], [14, 212], [46, 250], [46, 300], [34, 300], [34, 262], [0, 235]]}, style: {fill: WM}},
  {type: 'rect', z: -10, shape: {x: 33, y: 300, width: 14, height: 138}, style: {fill: WM}}
);

var chart = echarts.init(document.getElementById('chart'), null, {renderer: 'canvas'});
chart.setOption({
  animation: false,
  backgroundColor: '#fff',
  grid: grids,
  xAxis: xAxes,
  yAxis: yAxes,
  series: series,
  graphic: graphics
});
</script>
</body>
</html>
